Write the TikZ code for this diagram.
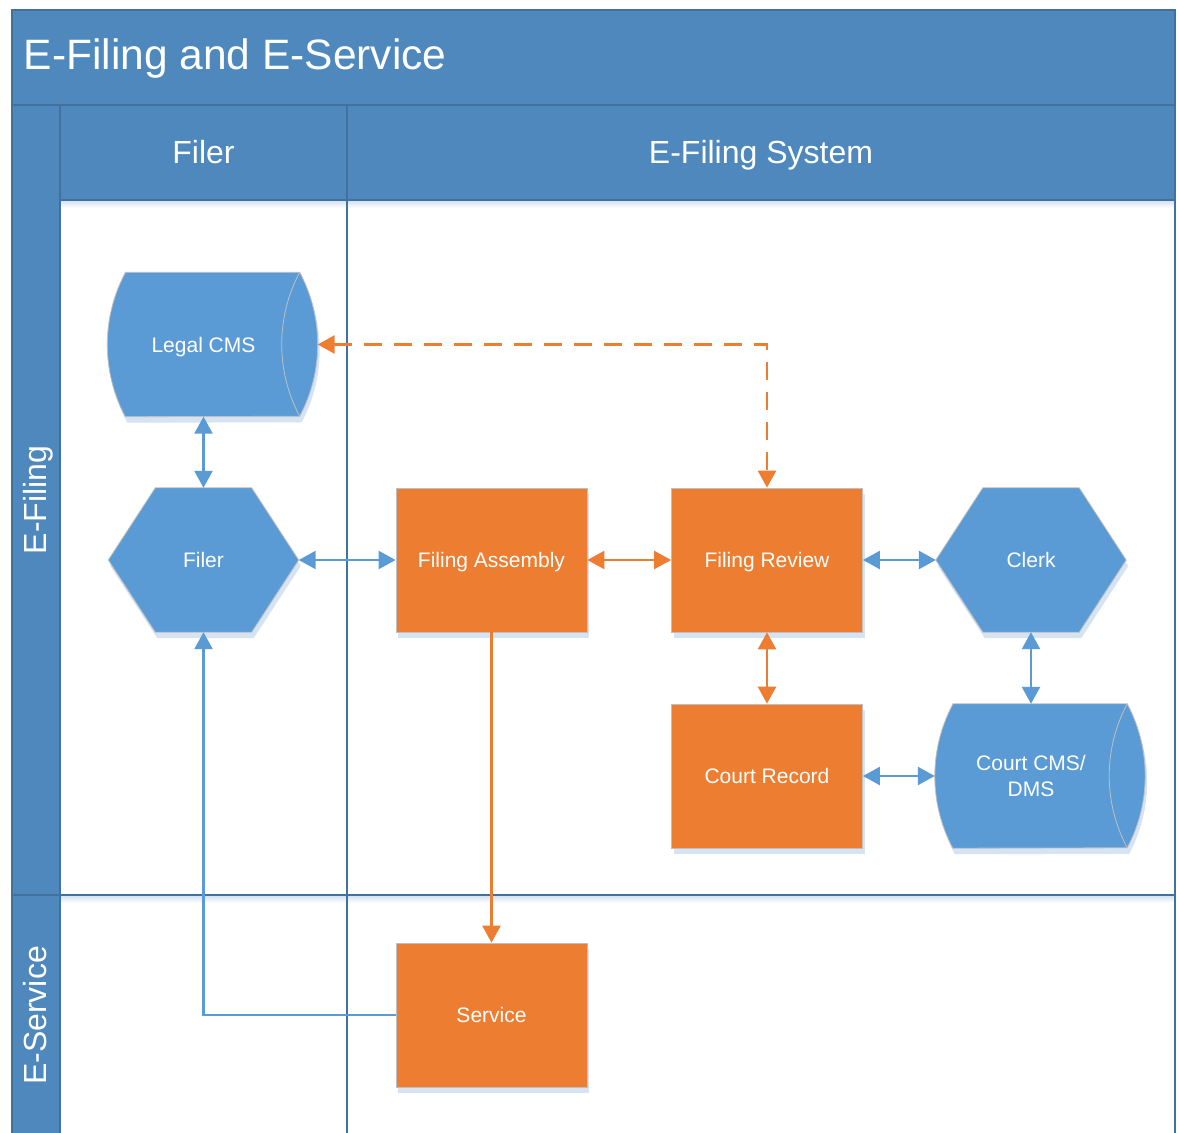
\documentclass[tikz,border=0pt]{standalone}
\usepackage{fontspec}
\setmainfont{Liberation Sans}
\usetikzlibrary{arrows.meta,backgrounds,positioning,shadows}

\definecolor{lanefill}{HTML}{4E88BC}
\definecolor{laneline}{HTML}{41719C}
\definecolor{shapeblue}{HTML}{5B9BD5}
\definecolor{shapeorange}{HTML}{ED7D31}
\definecolor{rimgray}{HTML}{BFBFBF}
\definecolor{shadowblue}{HTML}{D5E3F2}

\begin{document}
\begin{tikzpicture}[x=1pt,y=-1pt,
    lane/.style={fill=lanefill,draw=laneline,line width=1.5pt},
    lanetxt/.style={text=white,inner sep=0pt,font=\fontsize{32}{38}\selectfont},
    boxtxt/.style={text=white,inner sep=0pt,text height=15.2pt,text depth=0pt,font=\fontsize{21}{26}\selectfont},
    proc/.style={boxtxt,rectangle,fill=shapeorange,draw=rimgray,line width=0.8pt,
      minimum width=191pt,minimum height=144pt,
      general shadow={fill=shadowblue,shadow xshift=2pt,shadow yshift=-6pt}},
    hexa/.style={boxtxt,rectangle,minimum width=190pt,minimum height=144pt},
    cyl/.style={boxtxt,rectangle,align=center,minimum width=192pt,minimum height=144pt},
    flow/.style={line width=2.5pt,>={Triangle[length=17pt,width=18pt]}},
    bflow/.style={flow,draw=shapeblue},
    oflow/.style={flow,draw=shapeorange}]
    \useasboundingbox (0,0) rectangle (1177,1132);

    % swimlanes
    \begin{scope}[on background layer]
        \fill[white] (0,0) rectangle (1177,1132);
        \filldraw[lane] (12,10) rectangle (1175,105);
        \filldraw[lane] (12,105) rectangle (60,1140);
        \filldraw[lane] (60,105) rectangle (347,200);
        \filldraw[lane] (347,105) rectangle (1175,200);
        \fill[top color=shadowblue,bottom color=white] (61,201) rectangle (1174,208);
        \fill[top color=shadowblue,bottom color=white] (61,896) rectangle (1174,903);
        \draw[laneline,line width=2pt] (347,200) -- (347,1140) (1175,200) -- (1175,1140)
            (12,895) -- (1175,895);
    \end{scope}

    \node[lanetxt,anchor=base west,font=\fontsize{42.5}{50}\selectfont] (title) at (23.5,70) {E-Filing and E-Service};
    \node[lanetxt,anchor=base] (hfiler) at (203.5,163) {Filer};
    \node[lanetxt,anchor=base] (hsys) at (761,163) {E-Filing System};
    \node[lanetxt,anchor=base,rotate=90] (lfiling) at (46,500) {E-Filing};
    \node[lanetxt,anchor=base,rotate=90] (lservice) at (46,1015.5) {E-Service};

    % shapes
    \node[cyl] (lcms) at (203.5,344.5) {Legal CMS};
    \node[hexa] (filer) at (203.5,560) {Filer};
    \node[proc] (fasm) at (491.5,560) {Filing Assembly};
    \node[proc] (frev) at (767,560) {Filing Review};
    \node[hexa] (clerk) at (1031,560) {Clerk};
    \node[proc] (crec) at (767,776) {Court Record};
    \node[cyl,text height=40pt] (ccms) at (1031,776) {Court CMS/\\DMS};
    \node[proc] (serv) at (491.5,1015) {Service};

    \begin{scope}[on background layer]
        \foreach \n in {filer,clerk} {
            \fill[shadowblue,transform canvas={xshift=2pt,yshift=-6pt}]
                ([xshift=47pt]\n.north west) -- ([xshift=-47pt]\n.north east) -- (\n.east)
                -- ([xshift=-47pt]\n.south east) -- ([xshift=47pt]\n.south west) -- (\n.west) -- cycle;
            \filldraw[fill=shapeblue,draw=rimgray,line width=0.8pt]
                ([xshift=47pt]\n.north west) -- ([xshift=-47pt]\n.north east) -- (\n.east)
                -- ([xshift=-47pt]\n.south east) -- ([xshift=47pt]\n.south west) -- (\n.west) -- cycle;
        }
        \foreach \n in {lcms,ccms} {
            \fill[shadowblue,transform canvas={xshift=2pt,yshift=-6pt}]
                ([xshift=18pt]\n.north west) -- (\n.north east)
                arc[start angle=28.07,end angle=-28.07,radius=153pt]
                -- ([xshift=18pt]\n.south west)
                arc[start angle=208.07,end angle=151.93,radius=153pt] -- cycle;
            \filldraw[fill=shapeblue,draw=rimgray,line width=0.8pt]
                ([xshift=18pt]\n.north west) -- (\n.north east)
                arc[start angle=28.07,end angle=-28.07,radius=153pt]
                -- ([xshift=18pt]\n.south west)
                arc[start angle=208.07,end angle=151.93,radius=153pt] -- cycle;
            \draw[rimgray,line width=0.8pt] (\n.north east)
                arc[start angle=151.93,end angle=208.07,radius=153pt];
        }
    \end{scope}

    % connectors
    \draw[bflow,<->] (lcms.south) -- (filer.north);
    \draw[bflow,<->] (filer.east) -- (fasm.west);
    \draw[oflow,<->] (fasm.east) -- (frev.west);
    \draw[bflow,<->] (frev.east) -- (clerk.west);
    \draw[oflow,<->] (frev.south) -- (crec.north);
    \draw[bflow,<->] (clerk.south) -- (ccms.north);
    \draw[bflow,<->] (crec.east) -- (ccms.west);
    \draw[oflow,<->,dash pattern=on 18pt off 12pt] ([xshift=18pt]lcms.east) -| (frev.north);
    \draw[oflow,->] (fasm.south) -- (serv.north);
    \draw[bflow,->] (serv.west) -| (filer.south);
\end{tikzpicture}
\end{document}
